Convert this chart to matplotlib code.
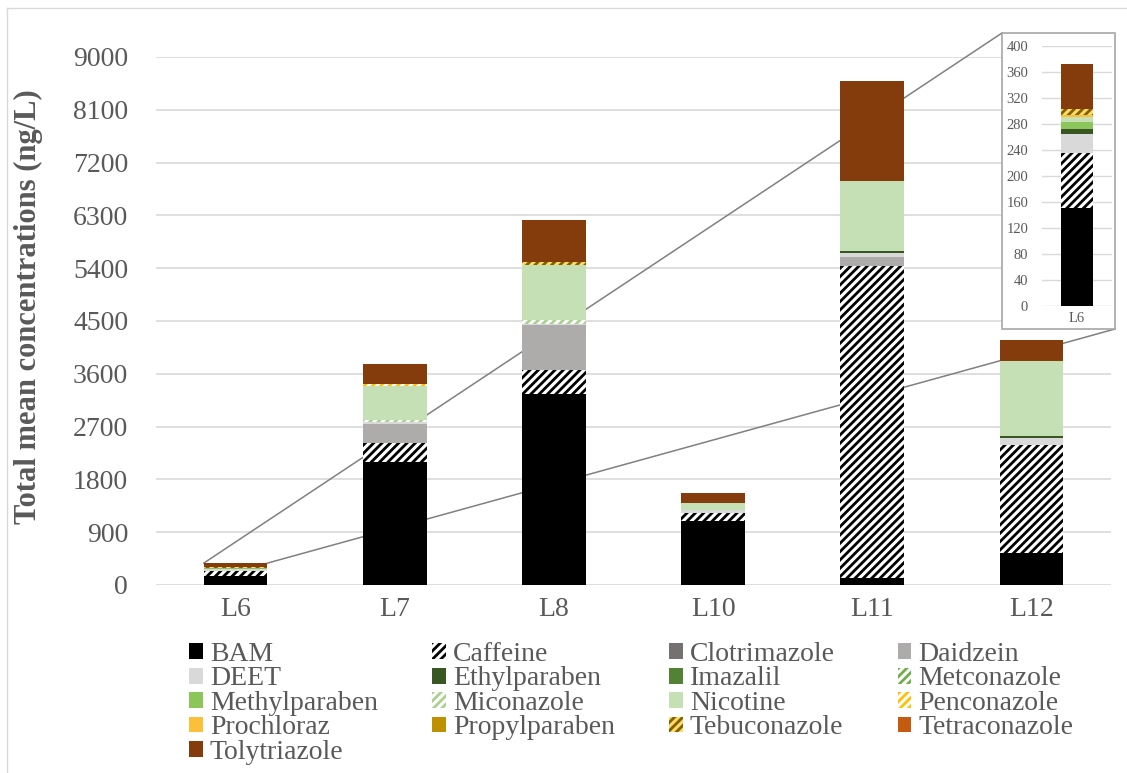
import numpy as np
import matplotlib.pyplot as plt
from matplotlib.patches import Rectangle
from matplotlib.lines import Line2D

plt.rcParams['font.family'] = ['Liberation Serif', 'DejaVu Serif']
plt.rcParams['hatch.linewidth'] = 2.0

sites = ['L6', 'L7', 'L8', 'L10', 'L11', 'L12']

# mean concentrations (ng/L) per site
BAM = [150, 2090, 3260, 1085, 120, 545]
Caffeine = [85, 330, 400, 150, 5320, 1840]
Clotrimazole = [0, 0, 0, 0, 0, 0]
Daidzein = [0, 320, 770, 0, 150, 0]
DEET = [30, 30, 20, 45, 70, 115]
Ethylparaben = [8, 0, 0, 0, 30, 40]
Imazalil = [0, 0, 0, 0, 0, 0]
Metconazole = [0, 0, 0, 0, 0, 0]
Methylparaben = [10, 0, 0, 0, 0, 0]
Miconazole = [0, 50, 60, 0, 0, 0]
Nicotine = [8, 570, 950, 125, 1200, 1280]
Penconazole = [0, 40, 0, 0, 0, 0]
Prochloraz = [3, 0, 0, 0, 0, 0]
Propylparaben = [0, 0, 0, 0, 0, 0]
Tebuconazole = [9, 0, 45, 0, 0, 0]
Tetraconazole = [0, 0, 0, 0, 0, 0]
Tolytriazole = [70, 340, 720, 170, 1700, 355]

compounds = ['BAM', 'Caffeine', 'Clotrimazole', 'Daidzein', 'DEET', 'Ethylparaben',
             'Imazalil', 'Metconazole', 'Methylparaben', 'Miconazole', 'Nicotine',
             'Penconazole', 'Prochloraz', 'Propylparaben', 'Tebuconazole',
             'Tetraconazole', 'Tolytriazole']
values = [BAM, Caffeine, Clotrimazole, Daidzein, DEET, Ethylparaben, Imazalil,
          Metconazole, Methylparaben, Miconazole, Nicotine, Penconazole, Prochloraz,
          Propylparaben, Tebuconazole, Tetraconazole, Tolytriazole]

# (face, hatch colour, hatch)
styles = {
    'BAM': ('#000000', '#000000', None),
    'Caffeine': ('#ffffff', '#000000', '////'),
    'Clotrimazole': ('#767171', '#767171', None),
    'Daidzein': ('#aeabab', '#aeabab', None),
    'DEET': ('#d9d9d9', '#d9d9d9', None),
    'Ethylparaben': ('#385723', '#385723', None),
    'Imazalil': ('#548235', '#548235', None),
    'Metconazole': ('#ffffff', '#70ad47', '////'),
    'Methylparaben': ('#8cc65a', '#8cc65a', None),
    'Miconazole': ('#ffffff', '#a9d18e', '////'),
    'Nicotine': ('#c5e0b4', '#c5e0b4', None),
    'Penconazole': ('#ffffff', '#ffc000', '////'),
    'Prochloraz': ('#fbbf3a', '#fbbf3a', None),
    'Propylparaben': ('#bf9000', '#bf9000', None),
    'Tebuconazole': ('#ffd966', '#7f6000', '////'),
    'Tetraconazole': ('#c55a11', '#c55a11', None),
    'Tolytriazole': ('#843c0c', '#843c0c', None),
}

txt = '#595959'
grid = '#d9d9d9'
W, H = 1127, 773

fig = plt.figure(figsize=(W / 100, H / 100), dpi=100)
ax = fig.add_axes([156 / W, 1 - 585 / H, 955 / W, 528 / H])

x = np.arange(len(sites))
width = 0.40
bottom = np.zeros(len(sites))
handles = []
for name, vals in zip(compounds, values):
    face, hc, hatch = styles[name]
    b = ax.bar(x, vals, width, bottom=bottom, color=face, edgecolor=hc,
               hatch=hatch, linewidth=0, label=name, zorder=2)
    handles.append(b)
    bottom += np.array(vals)

ax.set_xlim(-0.5, len(sites) - 0.5)
ax.set_ylim(0, 9000)
ax.set_yticks(np.arange(0, 9001, 900))
ax.set_xticks(x)
ax.set_xticklabels(sites)
ax.yaxis.grid(True, color=grid, linewidth=1.2, zorder=0.5)
ax.set_axisbelow(True)
for s in ax.spines.values():
    s.set_visible(False)
ax.tick_params(axis='both', length=0, labelsize=20, colors=txt)
ax.tick_params(axis='y', pad=20)
ax.tick_params(axis='x', pad=9)

fig.text(28 / W, 1 - 307 / H, 'Total mean concentrations (ng/L)', rotation=90,
         ha='center', va='center', fontsize=22, fontweight='bold', color=txt)

# zoom box for L6
box = (1002, 33, 1115, 329)
fig.patches.append(Rectangle((box[0] / W, 1 - box[3] / H), (box[2] - box[0]) / W,
                             (box[3] - box[1]) / H, transform=fig.transFigure,
                             facecolor='white', edgecolor='#a6a6a6', linewidth=1.2,
                             zorder=1))

tot6 = bottom[0]
inv = ax.transData.inverted()
for xs, (fx, fy) in [(x[0] - width / 2, (box[0], box[1])),
                     (x[0] + width / 2, (box[2], box[3]))]:
    ex, ey = inv.transform(fig.transFigure.transform((fx / W, 1 - fy / H)))
    ax.add_line(Line2D([xs, ex], [tot6, ey], color='#808080', linewidth=1.1,
                       zorder=1.5, clip_on=False))

ins = fig.add_axes([1042 / W, 1 - 306 / H, 70 / W, 260 / H])
ins.set_zorder(3)
ins.patch.set_alpha(0)
b0 = 0
for name, vals in zip(compounds, values):
    face, hc, hatch = styles[name]
    ins.bar([0], [vals[0]], 0.47, bottom=b0, color=face, edgecolor=hc,
            hatch=hatch, linewidth=0, zorder=2)
    b0 += vals[0]
ins.set_xlim(-0.5, 0.5)
ins.set_ylim(0, 400)
ins.set_yticks(np.arange(0, 401, 40))
ins.set_xticks([0])
ins.set_xticklabels([sites[0]])
ins.yaxis.grid(True, color=grid, linewidth=1, zorder=0.5)
ins.set_axisbelow(True)
for s in ins.spines.values():
    s.set_visible(False)
ins.tick_params(axis='both', length=0, labelsize=10.5, colors=txt)
ins.tick_params(axis='y', pad=10)
ins.tick_params(axis='x', pad=4)

# legend laid out row by row like the original
ncol = 4
order = []
for c in range(ncol):
    order += list(range(c, len(compounds), ncol))
fig.legend([handles[i] for i in order], [compounds[i] for i in order], ncol=ncol,
           loc='upper left', bbox_to_anchor=(189 / W, 1 - 642 / H), frameon=False,
           fontsize=20, handlelength=0.5, handleheight=0.5, handletextpad=0.25,
           columnspacing=1.95, labelspacing=-0.02, borderpad=0, borderaxespad=0,
           labelcolor=txt)

# outer chart frame
fig.add_artist(Line2D([7 / W, 7 / W], [0, 1 - 8 / H], color=grid, linewidth=1))
fig.add_artist(Line2D([7 / W, 1], [1 - 8 / H, 1 - 8 / H], color=grid, linewidth=1))

fig.savefig('out.png', dpi=100)
